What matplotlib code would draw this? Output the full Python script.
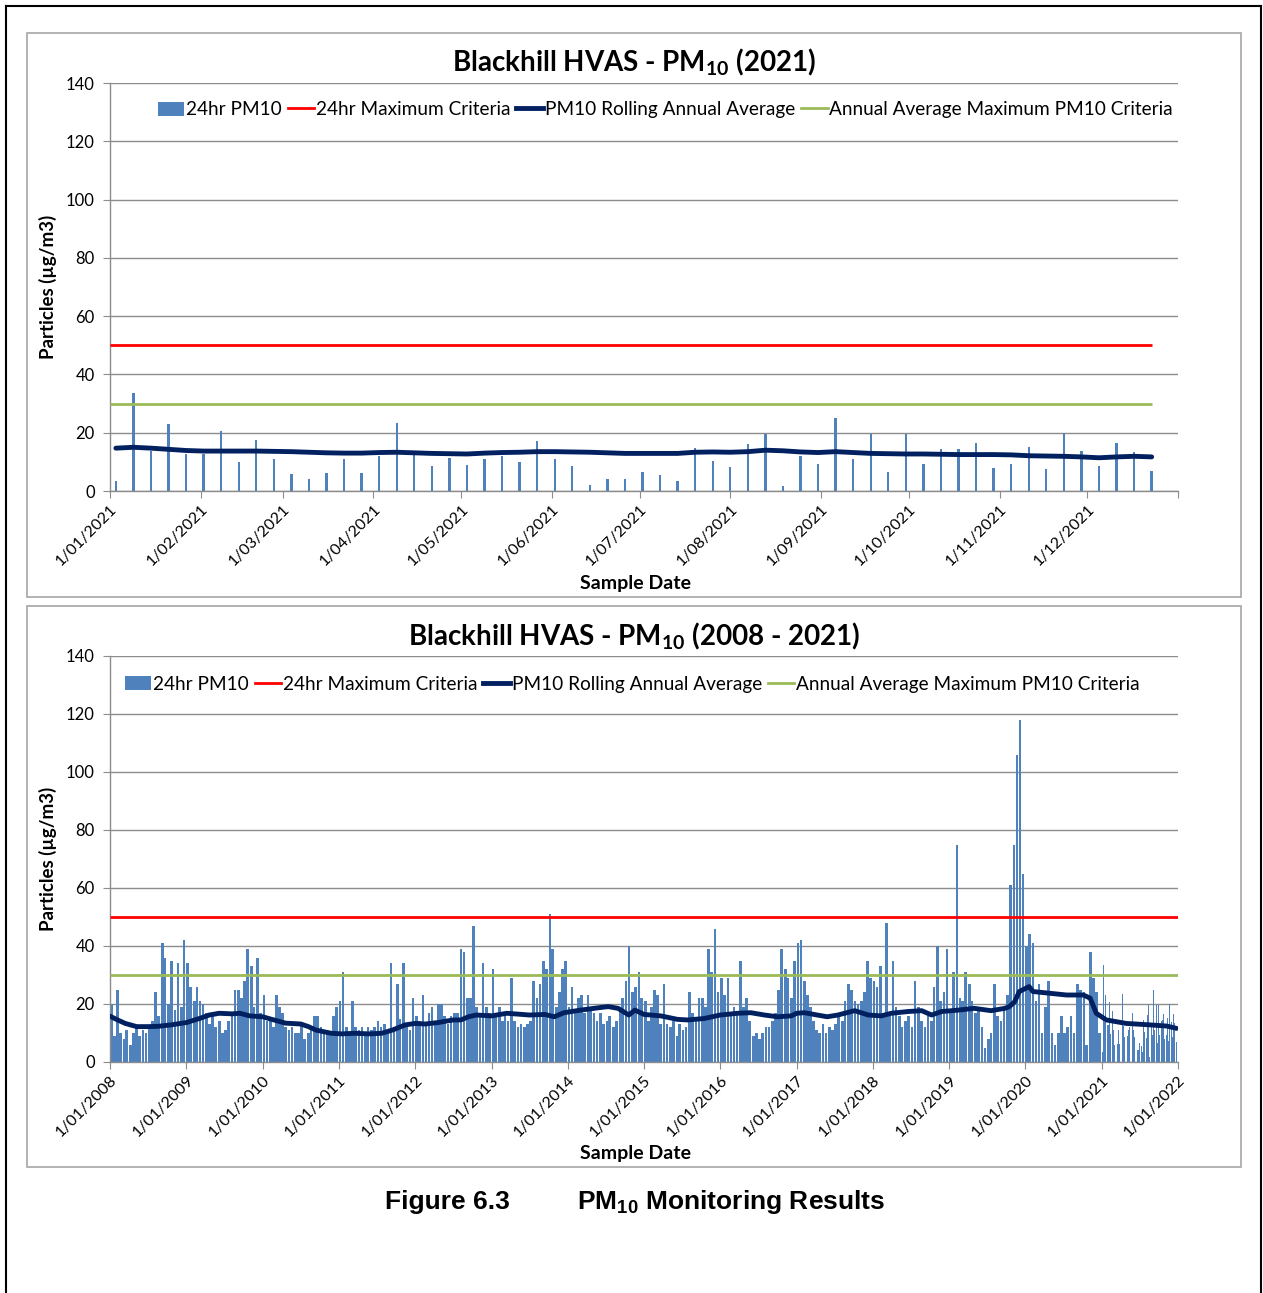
import numpy as np
import pandas as pd
import matplotlib
matplotlib.use("Agg")
import matplotlib.pyplot as plt
import matplotlib.dates as mdates
from matplotlib.patches import Rectangle
from matplotlib.lines import Line2D

plt.rcParams['font.family'] = ['Lato', 'DejaVu Sans']
plt.rcParams['mathtext.fontset'] = 'custom'
plt.rcParams['mathtext.rm'] = 'Lato'
plt.rcParams['mathtext.bf'] = 'Lato:bold'
plt.rcParams['mathtext.sf'] = 'Liberation Sans:bold'

# ---------------- data ----------------
criteria_24hr = 50
criteria_annual = 30

# 2021 HVAS samples (1-in-6 day), first sample 3 Jan 2021
first_sample_2021 = "2021-01-03"
pm10_2021 = [3.4, 33.5, 13.7, 23.0, 12.7, 12.7, 20.7, 9.8, 17.6, 11.0, 5.7, 4.2, 6.2, 10.9, 6.2,
             11.9, 23.3, 12.4, 8.6, 11.3, 8.9,
             11.0, 11.9, 9.8, 17.0, 10.9, 8.6, 1.9, 4.1, 4.2, 6.6, 5.5, 3.4, 14.6, 10.3, 8.2,
             16.2, 19.6, 1.7, 12.1, 9.2,
             24.9, 10.9, 19.6, 6.6, 19.7, 9.2, 14.3, 14.4, 16.4, 7.8, 9.3, 15.2, 7.4, 20.0,
             13.7, 8.6, 16.4, 13.4, 7.0]
avg_2021 = [14.7, 15.0, 14.7, 14.3, 13.9, 13.7, 13.7, 13.7, 13.7, 13.6, 13.5, 13.3, 13.1, 13.0, 13.0,
            13.2, 13.3, 13.1, 12.9, 12.8, 12.7,
            13.0, 13.2, 13.3, 13.5, 13.5, 13.4, 13.3, 13.1, 12.9, 12.9, 12.9, 12.9, 13.3, 13.4, 13.3,
            13.5, 14.0, 13.8, 13.4, 13.2,
            13.5, 13.2, 12.9, 12.8, 12.7, 12.7, 12.6, 12.5, 12.5, 12.5, 12.4, 12.1, 12.0, 11.9,
            11.7, 11.4, 11.7, 11.9, 11.7]

# 2008-2020 record, read at half-month resolution
pm10_2008 = [20, 9, 25, 10, 8, 11, 6, 10, 12, 9, 11, 10, 12, 14, 24, 16, 41, 36, 20, 35, 18, 34, 19, 42]
pm10_2009 = [34, 26, 21, 26, 21, 20, 17, 13, 16, 12, 14, 10, 11, 14, 17, 25, 25, 22, 28, 39, 33, 19, 36, 17]
pm10_2010 = [23, 14, 14, 12, 23, 19, 17, 12, 11, 12, 10, 10, 13, 8, 10, 12, 16, 16, 12, 11, 10, 10, 16, 19]
pm10_2011 = [21, 31, 12, 10, 21, 12, 11, 12, 10, 12, 11, 12, 14, 12, 13, 10, 34, 12, 27, 15, 34, 12, 11, 22]
pm10_2012 = [16, 14, 23, 13, 17, 19, 14, 20, 20, 16, 13, 16, 17, 17, 39, 38, 22, 22, 47, 19, 17, 34, 19, 17]
pm10_2013 = [32, 17, 19, 14, 17, 14, 29, 14, 12, 13, 12, 13, 14, 28, 22, 27, 35, 32, 51, 39, 19, 24, 32, 35]
pm10_2014 = [19, 26, 17, 22, 23, 17, 23, 19, 17, 14, 17, 13, 14, 16, 12, 14, 19, 22, 28, 40, 24, 26, 31, 22]
pm10_2015 = [21, 14, 19, 25, 23, 13, 27, 13, 12, 14, 9, 13, 11, 12, 24, 17, 14, 22, 22, 19, 39, 31, 46, 24]
pm10_2016 = [29, 23, 29, 17, 19, 17, 35, 19, 22, 14, 9, 10, 8, 10, 12, 12, 14, 17, 25, 39, 32, 29, 22, 35]
pm10_2017 = [41, 42, 28, 23, 19, 14, 11, 10, 13, 10, 12, 11, 13, 16, 14, 21, 27, 25, 21, 20, 21, 24, 35, 29]
pm10_2018 = [28, 26, 33, 17, 48, 16, 35, 19, 16, 12, 14, 16, 12, 28, 19, 14, 12, 16, 14, 26, 40, 21, 24, 39]
pm10_2019 = [17, 31, 75, 22, 21, 31, 27, 21, 17, 19, 12, 5, 8, 10, 27, 16, 14, 19, 23, 61, 75, 106, 118, 65]
pm10_2020 = [40, 44, 41, 21, 27, 10, 19, 28, 10, 6, 10, 16, 10, 12, 16, 10, 27, 25, 24, 6, 38, 29, 24, 10]

# rolling annual average 2008-2021 (decimal year, value)
avg_hist_t = [2008.0, 2008.1, 2008.2, 2008.35, 2008.5, 2008.63, 2008.8, 2009.0, 2009.17, 2009.3, 2009.43,
              2009.6, 2009.7, 2009.83, 2010.0, 2010.12, 2010.3, 2010.5, 2010.6, 2010.7, 2010.9, 2011.04,
              2011.2, 2011.4, 2011.56, 2011.7, 2011.87, 2012.0, 2012.13, 2012.3, 2012.5, 2012.6, 2012.7,
              2012.8, 2013.0, 2013.2, 2013.5, 2013.7, 2013.82, 2013.95, 2014.17, 2014.4, 2014.53, 2014.66,
              2014.8, 2014.88, 2015.0, 2015.22, 2015.44, 2015.57, 2015.79, 2016.0, 2016.23, 2016.4,
              2016.58, 2016.75, 2016.93, 2017.0, 2017.1, 2017.27, 2017.4, 2017.54, 2017.76, 2017.94,
              2018.11, 2018.24, 2018.46, 2018.64, 2018.77, 2018.9, 2019.12, 2019.33, 2019.55, 2019.73,
              2019.79, 2019.86, 2019.92, 2020.05, 2020.1, 2020.32, 2020.54, 2020.76, 2020.85, 2020.93,
              2021.06, 2021.32, 2021.63, 2021.85, 2021.98]
avg_hist_v = [15.8, 14.5, 13.3, 12.2, 12.2, 12.3, 12.8, 13.6, 15.0, 16.2, 16.8,
              16.6, 16.8, 15.9, 15.6, 14.7, 13.4, 13.1, 12.2, 11.0, 9.9, 9.7,
              9.9, 9.7, 9.9, 11.0, 12.8, 13.3, 13.1, 13.6, 14.5, 14.5, 15.6,
              16.2, 15.9, 16.8, 16.2, 16.4, 15.6, 17.0, 17.9, 18.7, 19.1, 18.5,
              16.2, 17.9, 16.4, 15.9, 14.7, 14.5, 15.0, 16.2, 16.8, 17.0,
              16.2, 15.6, 15.9, 16.8, 17.0, 16.2, 15.6, 16.2, 17.7, 16.2,
              15.9, 16.8, 17.4, 17.7, 16.2, 17.4, 17.9, 18.5, 17.7, 18.5,
              19.1, 20.8, 24.3, 26.0, 24.3, 23.7, 23.1, 23.1, 22.0, 16.8,
              14.5, 13.3, 12.8, 12.4, 11.6]

# ---------------- styling ----------------
W, H = 1263, 1293
BAR = '#4F81BD'
RED = '#FF0000'
NAVY = '#002060'
GREEN = '#9BBB59'
GRID = '#8C8C8C'

fig = plt.figure(figsize=(W / 100, H / 100), dpi=100)
fig.patch.set_facecolor('white')


def fx(px):
    return px / W


def fy(py):
    return 1 - py / H


def decyear(t):
    y = int(np.floor(t))
    return pd.Timestamp(f"{y}-01-01") + pd.Timedelta(days=(t - y) * 365.25)


def fmt_date(x, pos=None):
    d = mdates.num2date(x)
    return f"{d.day}/{d.month:02d}/{d.year}"


def style_axes(ax):
    ax.set_ylim(0, 140)
    ax.set_yticks(range(0, 141, 20))
    ax.yaxis.grid(True, color=GRID, lw=1)
    ax.set_axisbelow(True)
    for s in ['top', 'right']:
        ax.spines[s].set_visible(False)
    for s in ['left', 'bottom']:
        ax.spines[s].set_color(GRID)
        ax.spines[s].set_linewidth(1)
    ax.tick_params(axis='y', direction='out', length=5, color=GRID, labelsize=12, pad=6)
    ax.tick_params(axis='x', direction='out', length=5, color=GRID, labelsize=11.5, pad=3)
    for lab in ax.get_xticklabels():
        lab.set_rotation(45)
        lab.set_ha('right')
        lab.set_rotation_mode('anchor')


def legend(ax, cx, cy):
    handles = [Rectangle((0, 0), 1, 1, fc=BAR, ec='none'),
               Line2D([], [], color=RED, lw=2),
               Line2D([], [], color=NAVY, lw=3.5),
               Line2D([], [], color=GREEN, lw=2)]
    labels = ['24hr PM10', '24hr Maximum Criteria', 'PM10 Rolling Annual Average',
              'Annual Average Maximum PM10 Criteria']
    ax.legend(handles, labels, loc='center', bbox_to_anchor=(cx, cy), ncol=4, frameon=False,
              fontsize=13.7, handlelength=1.4, handletextpad=0.1, columnspacing=0.3,
              handleheight=0.8)


# ---------------- top chart (2021) ----------------
ax1 = fig.add_axes([fx(110), fy(491), fx(1068), 408 / H])
d21 = pd.date_range(first_sample_2021, periods=len(pm10_2021), freq='6D')
ax1.bar(d21, pm10_2021, width=0.8, color=BAR, zorder=2)
ax1.hlines(criteria_24hr, pd.Timestamp('2021-01-01'), d21[-1], color=RED, lw=2, zorder=3)
ax1.plot(d21, avg_2021, color=NAVY, lw=3.5, zorder=4, solid_capstyle='round')
ax1.hlines(criteria_annual, pd.Timestamp('2021-01-01'), d21[-1], color=GREEN, lw=2, zorder=3)
ax1.set_xlim(pd.Timestamp('2021-01-01'), pd.Timestamp('2022-01-01'))
mt = pd.date_range('2021-01-01', '2022-01-01', freq='MS')
ax1.set_xticks(mt)
ax1.set_xticklabels([fmt_date(mdates.date2num(m)) for m in mt[:-1]] + [''])
style_axes(ax1)
legend(ax1, 0.52, 0.934)

# ---------------- bottom chart (2008-2021) ----------------
ax2 = fig.add_axes([fx(110), fy(1062), fx(1068), 406 / H])
hist_vals = (pm10_2008 + pm10_2009 + pm10_2010 + pm10_2011 + pm10_2012 + pm10_2013 + pm10_2014 +
             pm10_2015 + pm10_2016 + pm10_2017 + pm10_2018 + pm10_2019 + pm10_2020)
hist_dates = pd.date_range('2008-01-01', periods=len(hist_vals), freq='SMS')
ax2.bar(hist_dates, hist_vals, width=12.5, align='edge', color=BAR, lw=0, zorder=2)
ax2.bar(d21, pm10_2021, width=4.5, color=BAR, lw=0, zorder=2)
x0, x1 = pd.Timestamp('2008-01-01'), pd.Timestamp('2022-01-01')
ax2.hlines(criteria_24hr, x0, x1, color=RED, lw=2, zorder=3)
ax2.plot([decyear(t) for t in avg_hist_t], avg_hist_v, color=NAVY, lw=3.5, zorder=4,
         solid_capstyle='round')
ax2.hlines(criteria_annual, x0, x1, color=GREEN, lw=2, zorder=3)
ax2.set_xlim(x0, x1)
yt = pd.date_range('2008-01-01', '2022-01-01', freq='YS')
ax2.set_xticks(yt)
ax2.set_xticklabels([fmt_date(mdates.date2num(m)) for m in yt])
style_axes(ax2)
legend(ax2, 0.489, 0.931)

# ---------------- texts ----------------
fig.text(fx(634), fy(62), r'Blackhill HVAS - PM$_\mathbf{10}$ (2021)', ha='center', va='center',
         fontsize=20, fontweight='bold')
fig.text(fx(634), fy(636), r'Blackhill HVAS - PM$_\mathbf{10}$ (2008 - 2021)', ha='center',
         va='center', fontsize=20, fontweight='bold')
for ycen in (287, 859):
    fig.text(fx(48), fy(ycen), 'Particles (µg/m3)', rotation=90, ha='center', va='center',
             fontsize=13.5, fontweight='bold')
for yc in (583, 1154):
    fig.text(fx(636), fy(yc), 'Sample Date', ha='center', va='center', fontsize=14,
             fontweight='bold')

fig.text(fx(385), fy(1202), 'Figure 6.3', ha='left', va='center', fontsize=19, fontweight='bold',
         family=['Liberation Sans', 'DejaVu Sans'])
fig.text(fx(577), fy(1202), r'PM$_\mathsf{10}$ Monitoring Results', ha='left', va='center',
         fontsize=19, fontweight='bold', family=['Liberation Sans', 'DejaVu Sans'])

# chart frames
for (t, b) in ((33, 597), (606, 1167)):
    fig.add_artist(Rectangle((fx(27), fy(b)), fx(1241 - 27), (b - t) / H, fill=False,
                             ec='#A6A6A6', lw=1.2, transform=fig.transFigure))
# page frame
fig.add_artist(Line2D([fx(6), fx(6)], [0, fy(6)], color='black', lw=1.5, transform=fig.transFigure))
fig.add_artist(Line2D([fx(1261), fx(1261)], [0, fy(6)], color='black', lw=1.5,
                      transform=fig.transFigure))
fig.add_artist(Line2D([fx(6), fx(1261)], [fy(6), fy(6)], color='black', lw=1.5,
                      transform=fig.transFigure))

fig.savefig('out.png', dpi=100)
